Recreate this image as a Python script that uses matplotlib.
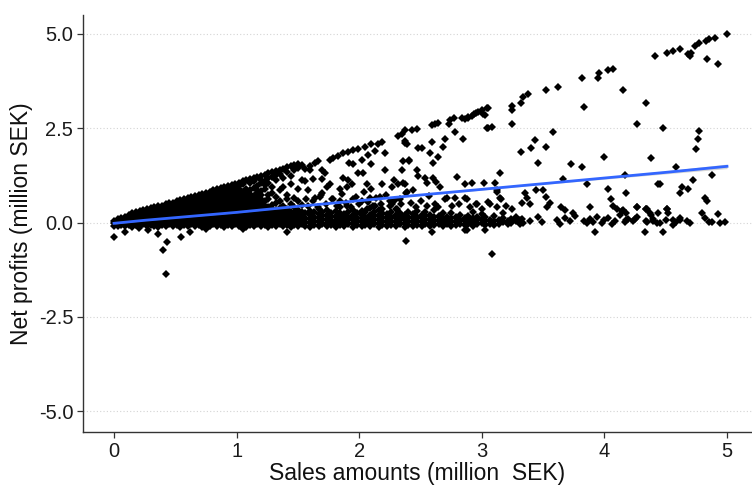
import matplotlib.pyplot as plt
import numpy as np

plt.rcParams['font.family'] = ['Liberation Sans', 'DejaVu Sans']

# Dense wedge near the origin: one column of profits per sales value
wedge_x = [0.00, 0.03, 0.06, 0.09, 0.12, 0.15, 0.18, 0.21, 0.24, 0.27, 0.30,
           0.33, 0.36, 0.39, 0.42, 0.45, 0.48, 0.51, 0.54, 0.57, 0.60, 0.63,
           0.66, 0.69, 0.72, 0.75, 0.78, 0.81, 0.84, 0.87, 0.90, 0.93, 0.96,
           0.99, 1.02, 1.05, 1.08, 1.11, 1.14, 1.17, 1.20,
           1.23, 1.26, 1.29, 1.32, 1.35, 1.38, 1.41, 1.44, 1.47, 1.50, 1.53]
wedge_y = [
    [-0.08, -0.02, 0.03],
    [-0.10, -0.03, 0.04, 0.09],
    [-0.06, 0.01, 0.07, 0.12],
    [-0.09, -0.02, 0.05, 0.11, 0.16],
    [-0.07, 0.02, 0.09, 0.15, 0.21],
    [-0.11, -0.03, 0.04, 0.12, 0.19, 0.25],
    [-0.06, 0.03, 0.10, 0.17, 0.24, 0.28],
    [-0.09, -0.01, 0.07, 0.15, 0.22, 0.30],
    [-0.05, 0.04, 0.12, 0.20, 0.27, 0.33],
    [-0.10, -0.02, 0.08, 0.16, 0.24, 0.31, 0.36],
    [-0.06, 0.03, 0.11, 0.19, 0.28, 0.35, 0.39],
    [-0.08, 0.00, 0.09, 0.17, 0.25, 0.33, 0.40],
    [-0.12, -0.03, 0.06, 0.14, 0.22, 0.31, 0.38, 0.43],
    [-0.07, 0.02, 0.11, 0.20, 0.28, 0.36, 0.45],
    [-0.09, 0.00, 0.08, 0.17, 0.26, 0.34, 0.42, 0.48],
    [-0.05, 0.04, 0.13, 0.22, 0.30, 0.39, 0.47, 0.51],
    [-0.10, -0.01, 0.09, 0.18, 0.27, 0.36, 0.44, 0.53],
    [-0.07, 0.03, 0.12, 0.21, 0.31, 0.40, 0.49, 0.56],
    [-0.11, -0.02, 0.07, 0.16, 0.25, 0.35, 0.44, 0.52, 0.60],
    [-0.06, 0.04, 0.13, 0.22, 0.31, 0.40, 0.48, 0.57, 0.62],
    [-0.09, 0.00, 0.10, 0.19, 0.28, 0.37, 0.46, 0.55, 0.64],
    [-0.05, 0.05, 0.14, 0.23, 0.33, 0.42, 0.51, 0.60, 0.67],
    [-0.10, -0.01, 0.08, 0.18, 0.27, 0.37, 0.46, 0.55, 0.63, 0.70],
    [-0.07, 0.03, 0.12, 0.22, 0.31, 0.41, 0.50, 0.59, 0.68, 0.73],
    [-0.11, -0.02, 0.07, 0.17, 0.26, 0.36, 0.45, 0.54, 0.64, 0.72, 0.76],
    [-0.06, 0.04, 0.13, 0.23, 0.32, 0.42, 0.51, 0.61, 0.70, 0.79],
    [-0.09, 0.01, 0.10, 0.19, 0.29, 0.38, 0.48, 0.57, 0.67, 0.75, 0.82],
    [-0.05, 0.05, 0.15, 0.24, 0.34, 0.43, 0.53, 0.62, 0.72, 0.80, 0.86],
    [-0.10, 0.00, 0.09, 0.19, 0.28, 0.38, 0.48, 0.57, 0.66, 0.76, 0.84, 0.88],
    [-0.07, 0.03, 0.13, 0.22, 0.32, 0.42, 0.51, 0.61, 0.71, 0.80, 0.91],
    [-0.12, -0.02, 0.08, 0.17, 0.27, 0.37, 0.46, 0.56, 0.66, 0.75, 0.85, 0.94],
    [-0.06, 0.04, 0.14, 0.24, 0.33, 0.43, 0.52, 0.62, 0.72, 0.82, 0.91, 0.97],
    [-0.09, 0.01, 0.11, 0.20, 0.30, 0.40, 0.49, 0.59, 0.69, 0.78, 0.88, 1.00],
    [-0.05, 0.05, 0.15, 0.25, 0.35, 0.44, 0.54, 0.64, 0.74, 0.84, 0.94, 1.03],
    [-0.10, 0.00, 0.10, 0.19, 0.29, 0.39, 0.49, 0.58, 0.68, 0.78, 0.88, 0.97, 1.06],
    [-0.07, 0.03, 0.13, 0.23, 0.33, 0.43, 0.53, 0.62, 0.72, 0.82, 1.02, 1.09],
    [-0.11, -0.01, 0.09, 0.18, 0.28, 0.38, 0.48, 0.59, 0.69, 0.79, 0.89, 1.12],
    [-0.06, 0.04, 0.14, 0.24, 0.34, 0.44, 0.55, 0.65, 0.75, 0.85, 1.05, 1.15],
    [-0.09, 0.01, 0.11, 0.21, 0.31, 0.41, 0.51, 0.61, 0.71, 0.92, 1.10, 1.18],
    [-0.05, 0.05, 0.15, 0.25, 0.36, 0.46, 0.56, 0.66, 0.77, 0.87, 0.97, 1.21],
    [-0.10, 0.00, 0.10, 0.20, 0.30, 0.41, 0.51, 0.62, 0.72, 0.83, 1.04, 1.14, 1.24],
    [-0.07, 0.03, 0.13, 0.23, 0.34, 0.45, 0.56, 0.88, 0.99, 1.10, 1.27],
    [-0.11, -0.01, 0.09, 0.19, 0.30, 0.40, 0.62, 0.73, 1.05, 1.18, 1.30],
    [-0.06, 0.04, 0.14, 0.25, 0.35, 0.47, 0.78, 0.94, 1.22, 1.33],
    [-0.09, 0.01, 0.11, 0.21, 0.32, 0.52, 0.68, 1.12, 1.26, 1.36],
    [-0.05, 0.05, 0.15, 0.26, 0.38, 0.58, 0.85, 1.29, 1.40],
    [-0.10, 0.00, 0.10, 0.20, 0.31, 0.44, 0.95, 1.18, 1.43],
    [-0.07, 0.03, 0.13, 0.23, 0.36, 0.62, 0.74, 1.33, 1.46],
    [-0.11, -0.01, 0.09, 0.19, 0.29, 0.50, 1.02, 1.24, 1.49],
    [-0.06, 0.04, 0.14, 0.24, 0.40, 0.66, 1.38, 1.52],
    [-0.09, 0.01, 0.11, 0.21, 0.33, 0.56, 0.88, 1.45, 1.55],
    [-0.05, 0.05, 0.15, 0.27, 0.46, 1.12, 1.52],
]

# Low-margin firms hugging zero profit
band_x = [1.56, 1.60, 1.63, 1.67, 1.70, 1.74, 1.77, 1.81, 1.84, 1.88, 1.91,
          1.95, 1.98, 2.02, 2.05, 2.09, 2.12, 2.16, 2.19, 2.23, 2.26, 2.30,
          2.33, 2.37, 2.40, 2.44, 2.47, 2.51, 2.54, 2.58, 2.61, 2.65, 2.68,
          2.72, 2.75, 2.79, 2.82, 2.86, 2.89, 2.93, 2.96, 3.00, 3.03, 3.07,
          3.10, 3.14, 3.17, 3.21, 3.24, 3.28, 3.31]
band_y = [
    [-0.08, 0.02, 0.12, 0.24], [-0.11, -0.01, 0.09, 0.19, 0.31],
    [-0.06, 0.05, 0.15, 0.27], [-0.09, 0.01, 0.11, 0.22, 0.36],
    [-0.05, 0.06, 0.17, 0.28], [-0.10, 0.00, 0.10, 0.20, 0.33],
    [-0.07, 0.04, 0.14, 0.25], [-0.12, -0.02, 0.08, 0.18, 0.30],
    [-0.06, 0.05, 0.15, 0.26, 0.40], [-0.09, 0.02, 0.12, 0.22],
    [-0.05, 0.06, 0.16, 0.29], [-0.11, -0.01, 0.09, 0.19, 0.34],
    [-0.07, 0.03, 0.13, 0.24], [-0.10, 0.01, 0.11, 0.21, 0.31],
    [-0.06, 0.05, 0.15, 0.27], [-0.09, 0.00, 0.10, 0.20, 0.38],
    [-0.05, 0.06, 0.17, 0.28], [-0.11, -0.01, 0.09, 0.19, 0.32],
    [-0.07, 0.04, 0.14, 0.25], [-0.10, 0.01, 0.12, 0.22],
    [-0.06, 0.05, 0.16, 0.29], [-0.09, 0.02, 0.11, 0.21, 0.35],
    [-0.05, 0.06, 0.15, 0.26], [-0.11, 0.00, 0.10, 0.20],
    [-0.07, 0.04, 0.14, 0.27], [-0.10, 0.01, 0.12, 0.23],
    [-0.06, 0.05, 0.16, 0.30], [-0.09, 0.02, 0.11, 0.21],
    [-0.05, 0.06, 0.17, 0.28], [-0.10, 0.00, 0.09, 0.20],
    [-0.07, 0.04, 0.14, 0.33], [-0.04, 0.07, 0.18],
    [-0.08, 0.02, 0.12, 0.24], [-0.05, 0.06, 0.16],
    [-0.09, 0.01, 0.11, 0.26], [-0.06, 0.05, 0.15],
    [-0.03, 0.08, 0.20], [-0.07, 0.03, 0.13],
    [-0.04, 0.06, 0.18], [-0.08, 0.02, 0.12, 0.27],
    [-0.05, 0.07, 0.16], [-0.02, 0.09, 0.22],
    [-0.06, 0.04, 0.14], [-0.03, 0.08],
    [-0.07, 0.03, 0.17], [-0.04, 0.06],
    [0.01, 0.12, 0.24], [-0.05, 0.05],
    [-0.02, 0.10], [0.03, 0.15], [-0.04, 0.07],
]

# Scattered firms at larger sales
tail_x = [3.33, 3.34, 3.39, 3.46, 3.49, 3.61, 3.64, 3.68, 3.72, 3.76, 3.83,
          3.86, 3.88, 3.91, 3.94, 3.98, 4.00, 4.03, 4.06, 4.09, 4.13, 4.17,
          4.19, 4.23, 4.27, 4.35, 4.40, 4.43, 4.14, 4.18, 4.25, 4.34, 4.34,
          4.38, 4.40, 4.44, 4.45, 4.51, 4.52, 4.50, 4.56, 4.56, 4.58, 4.62,
          4.62, 4.67, 4.70, 4.80, 4.82, 4.85, 4.88, 4.93, 4.94, 4.98]
tail_y = [0.10, -0.02, 0.05, 0.15, 0.02, 0.08, -0.03, 0.12, 0.03, 0.18, 0.05,
          -0.02, 0.10, 0.02, 0.16, 0.00, 0.06, 0.12, -0.03, 0.04, 0.20, 0.01,
          0.09, 0.03, 0.14, 0.02, 0.10, 0.00, 0.30, 0.06, 0.10, 0.36, 0.03,
          0.21, 0.03, 0.24, 0.00, 0.36, 0.24, 0.06, -0.06, 0.08, 0.02, 0.06,
          0.12, 0.03, 0.00, 0.24, 0.12, 0.02, 0.02, 0.22, -0.01, 0.01]

mid_x = [1.58, 1.62, 1.66, 1.69, 1.73, 1.78, 1.82, 1.86, 1.89, 1.93, 1.97,
         2.00, 2.04, 2.07, 2.11, 2.14, 2.18, 2.22, 2.25, 2.29, 2.34, 2.38,
         2.42, 2.46, 2.50, 2.55, 2.57, 2.62, 2.64, 2.70, 2.72, 2.76, 2.78,
         2.81, 2.86, 2.90, 2.96, 3.00, 3.05, 3.07, 3.12, 3.15, 3.20, 3.25,
         1.64, 1.68, 1.79, 1.84, 1.95, 2.02, 2.09, 2.17, 2.25, 2.33, 1.90,
         2.06, 2.13, 2.19, 2.27, 2.31, 3.12, 3.16, 2.88, 2.95, 3.35, 3.37,
         3.33, 3.39, 3.44, 3.50, 3.52, 3.56, 3.53, 3.65, 3.68, 3.74, 3.88,
         4.05, 4.07, 4.10, 4.15, 4.18, 4.27, 4.35, 4.37, 4.27, 4.34, 4.51,
         4.63, 4.68, 4.62, 4.82, 4.84, 4.18, 4.03, 4.45, 3.86]
mid_y = [0.45, 0.58, 0.40, 0.72, 0.50, 0.62, 0.44, 0.75, 0.53, 0.42, 0.68,
         0.48, 0.80, 0.55, 0.43, 0.66, 0.50, 0.74, 0.45, 0.60, 0.48, 0.78,
         0.52, 0.40, 0.58, 0.44, 0.70, 0.50, 0.40, 0.62, 0.66, 0.45, 0.66,
         0.50, 0.66, 0.42, 0.50, 0.37, 0.55, 0.48, 0.40, 0.66, 0.45, 0.35,
         0.66, 0.69, 0.63, 0.58, 0.63, 0.58, 0.66, 0.69, 0.58, 0.63, 0.45,
         0.37, 0.45, 0.37, 0.50, 0.37, 0.82, 0.63, 0.63, 0.50, 0.77, 0.66,
         0.53, 0.48, 0.87, 0.85, 0.69, 0.53, 0.40, 0.40, 0.32, 0.24, 0.40,
         0.63, 0.45, 0.37, 0.32, 0.24, 0.42, 0.37, 0.24, 0.40, 0.36, 0.36,
         0.95, 0.90, 0.79, 0.66, 0.56, 0.79, 0.90, 1.03, 1.01]

high_x = [1.56, 1.60, 1.64, 1.66, 1.76, 1.79, 1.83, 1.87, 1.91, 1.95, 1.99,
          2.05, 2.10, 2.15, 2.19, 2.07, 2.13, 2.21, 2.32, 2.35, 2.37, 2.41,
          1.60, 1.62, 1.70, 1.72, 1.70, 1.56, 1.58, 1.74, 1.76, 1.70, 1.57,
          1.92, 1.95, 1.87, 1.91, 1.94, 1.90, 2.02, 2.03, 1.99, 2.10, 2.06,
          2.10, 2.21, 2.19, 2.28, 2.27, 2.32, 2.36, 2.36, 1.84,
          2.37, 2.43, 2.47, 2.37, 2.39, 2.48, 2.51, 2.59, 2.59, 2.62, 2.64,
          2.70, 2.68, 2.58, 2.60, 2.64, 2.73, 2.74, 2.77, 2.84, 2.89, 2.94,
          2.97, 3.01, 3.04, 3.05, 2.85, 2.78, 2.41, 2.35, 2.47, 2.48, 2.54,
          2.60, 2.63, 2.66, 2.37, 2.44, 2.39, 2.86, 2.92, 3.02, 3.11, 3.15,
          3.12, 2.55, 2.80]
high_y = [1.43, 1.51, 1.59, 1.64, 1.67, 1.72, 1.77, 1.83, 1.88, 1.93, 1.96,
          2.01, 2.09, 2.09, 2.14, 1.80, 1.90, 1.85, 2.30, 2.35, 2.12, 1.64,
          1.38, 1.16, 1.38, 1.32, 1.16, 1.11, 0.85, 0.93, 1.03, 0.79, 0.63,
          1.59, 1.56, 1.19, 1.14, 1.03, 0.93, 1.67, 1.30, 1.30, 1.56, 1.03,
          0.90, 1.38, 1.03, 1.14, 0.93, 1.03, 1.06, 1.64, 0.90,
          2.45, 2.45, 2.48, 2.17, 2.09, 1.98, 1.98, 2.14, 2.59, 2.62, 2.65,
          2.22, 2.01, 1.83, 1.59, 1.75, 2.62, 2.72, 2.78, 2.78, 2.80, 2.88,
          2.94, 2.88, 3.04, 2.51, 2.22, 2.41, 1.67, 1.38, 1.40, 1.24, 1.19,
          1.19, 1.08, 0.93, 1.03, 0.87, 0.82, 1.01, 1.06, 1.06, 1.06, 1.32,
          0.85, 1.06, 1.20]

top_x = [2.86, 2.89, 2.92, 2.95, 3.00, 3.05, 3.03, 3.04, 3.08, 3.25, 3.25,
         3.25, 3.32, 3.34, 3.38, 3.52, 3.62, 3.82, 3.95, 3.96, 4.03, 4.07,
         3.83, 4.15, 4.34, 4.41, 4.27, 4.38, 4.00, 3.32, 3.40, 3.43, 3.52,
         3.46, 3.58, 3.73, 3.82, 3.66, 4.17, 4.44, 4.51, 4.56, 4.62, 4.68,
         4.70, 4.71, 4.74, 4.77, 4.83, 4.85, 4.90, 5.00, 4.84, 4.93, 4.48,
         4.77, 4.76, 4.75, 4.58, 4.88, 4.72]
top_y = [2.75, 2.78, 2.83, 2.91, 2.99, 3.04, 2.86, 2.51, 2.54, 3.10, 2.99,
         2.62, 3.17, 3.33, 3.41, 3.52, 3.60, 3.84, 3.84, 3.97, 4.05, 4.07,
         3.07, 3.52, 3.17, 4.42, 2.62, 1.72, 1.75, 1.88, 1.98, 2.19, 2.01,
         1.59, 2.41, 1.56, 1.48, 1.16, 1.27, 1.03, 4.50, 4.55, 4.60, 4.47,
         4.42, 4.50, 4.68, 4.76, 4.81, 4.87, 4.89, 5.00, 4.34, 4.21, 2.51,
         2.43, 2.22, 1.96, 1.46, 1.27, 1.14]

# Loss-making firms
loss_x = [0.00, 0.09, 0.28, 0.36, 0.43, 0.40, 0.42, 0.55, 0.62, 1.05, 1.41,
          2.38, 2.59, 2.88, 3.03, 3.08, 3.92, 4.33, 4.48, 2.86, 0.20, 0.75]
loss_y = [-0.37, -0.26, -0.21, -0.29, -0.52, -0.74, -1.36, -0.37, -0.24,
          -0.16, -0.26, -0.48, -0.24, -0.19, -0.21, -0.82, -0.26, -0.26,
          -0.26, -0.21, -0.15, -0.17]

# Smoothed trend with its standard-error band
smooth_x = [0.0, 0.25, 0.5, 0.75, 1.0, 1.5, 2.0, 2.5, 3.0, 3.5, 4.0, 4.5, 5.0]
smooth_y = [-0.02, 0.06, 0.13, 0.20, 0.27, 0.43, 0.58, 0.73, 0.88, 1.03,
            1.18, 1.33, 1.49]
smooth_se = [0.02, 0.01, 0.01, 0.01, 0.01, 0.01, 0.01, 0.01, 0.02, 0.02,
             0.03, 0.04, 0.06]

xs, ys = [], []
for x, col in zip(wedge_x, wedge_y):
    xs += [x] * len(col)
    ys += col
for x, col in zip(band_x, band_y):
    xs += [x] * len(col)
    ys += col
for gx, gy in [(tail_x, tail_y), (mid_x, mid_y), (high_x, high_y),
               (top_x, top_y), (loss_x, loss_y)]:
    xs += gx
    ys += gy

fig = plt.figure(figsize=(7.52, 4.86), dpi=100)
ax = fig.add_axes([83 / 752, 54 / 486, 669 / 752, 417 / 486])

for y in [-5, -2.5, 0, 2.5, 5]:
    ax.axhline(y, color='#d4d4d4', linestyle=(0, (1, 2)), linewidth=0.8, zorder=0)

ax.plot(xs, ys, 'D', color='black', markersize=3.7, markeredgewidth=0, zorder=2)

sx = np.array(smooth_x)
sy = np.array(smooth_y)
se = np.array(smooth_se)
ax.fill_between(sx, sy - se, sy + se, color='#999999', alpha=0.4, linewidth=0, zorder=3)
ax.plot(sx, sy, color='#3366FF', linewidth=2.0, zorder=4)

ax.set_xlim(-0.253, 5.204)
ax.set_ylim(-5.55, 5.5)
ax.set_xticks([0, 1, 2, 3, 4, 5])
ax.set_yticks([-5, -2.5, 0, 2.5, 5])
ax.set_yticklabels(['-5.0', '-2.5', '0.0', '2.5', '5.0'])

for side in ['top', 'right']:
    ax.spines[side].set_visible(False)
for side in ['left', 'bottom']:
    ax.spines[side].set_color('#333333')
    ax.spines[side].set_linewidth(1.0)
ax.tick_params(colors='#333333', labelcolor='#1a1a1a', labelsize=14.5,
               length=4, width=0.9, pad=3)

ax.set_xlabel('Sales amounts (million  SEK)', fontsize=16.5, color='#111111',
              labelpad=1)
ax.set_ylabel('Net profits (million SEK)', fontsize=16.5, color='#111111',
              labelpad=4)

fig.savefig('out.png', dpi=100)
